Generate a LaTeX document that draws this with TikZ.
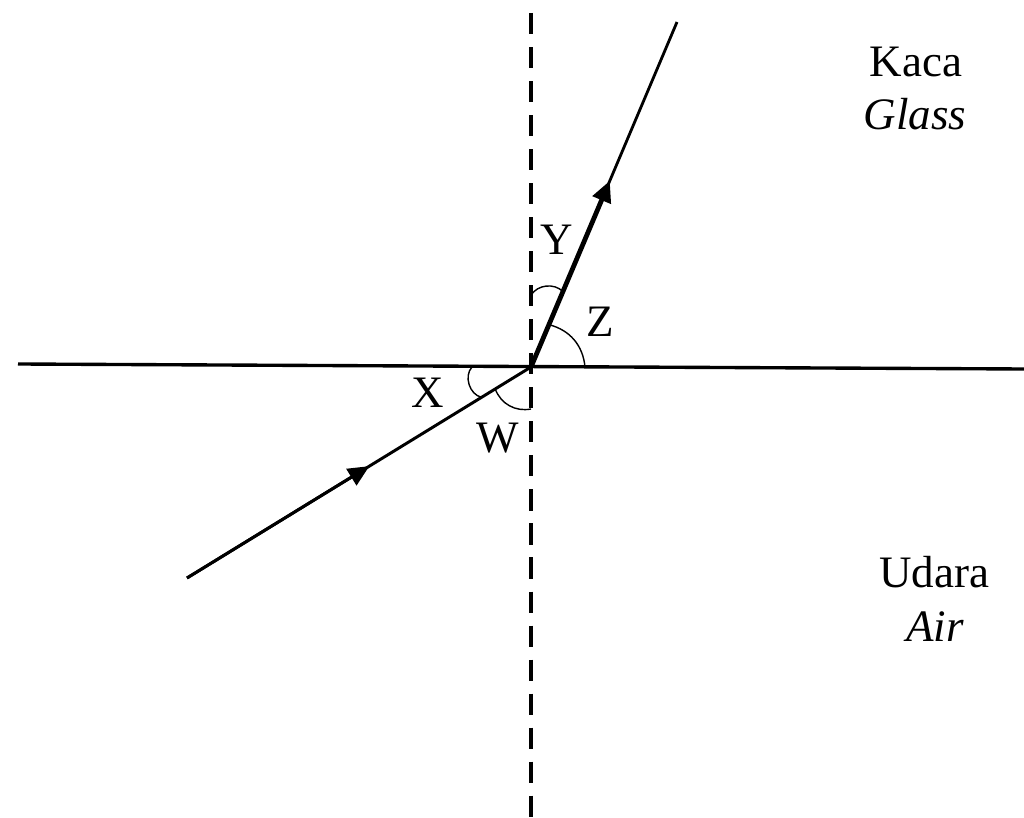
\documentclass[tikz,border=0pt]{standalone}
\usepackage{fontspec}
\setmainfont{Liberation Serif}
\usetikzlibrary{arrows.meta,calc}
\tikzset{
  ray/.style={line width=2.1pt},
  normalline/.style={line width=3.5pt, dash pattern=on 15pt off 9.2pt},
  angarc/.style={line width=1pt},
  lbl/.style={font=\fontsize{32}{38}\selectfont, inner sep=0pt},
  tip/.style={-{Triangle[length=15pt,width=13.5pt]}}
}
\begin{document}
\begin{tikzpicture}[x=0.025cm,y=0.025cm]
    \useasboundingbox (0,0) rectangle (1024,817);

    % Points
    \coordinate (O) at (531,450);
    \coordinate (N) at (531,804);
    \coordinate (S) at (531,0);
    \coordinate (L) at (18,453);
    \coordinate (R) at (1024,448);
    \coordinate (A) at (187,239);
    \coordinate (B) at (677,795);

    % Normal
    \draw[normalline] (N) -- (S);

    % Boundary
    \draw[line width=2.4pt] (L) -- (R);

    % Incident ray
    \draw[ray] (A) -- (O);
    \draw[ray,tip] (A) -- ($(A)!0.53!(O)$);

    % Refracted ray
    \draw[line width=2pt] (O) -- (B);
    \draw[line width=3.4pt,tip] (O) -- ($(O)!0.54!(B)$);

    % Angles
    \draw[angarc] ($(O)+(90:72)$) to[bend left=50] ($(O)+(67.1:82)$);
    \draw[angarc] ($(O)+(0:54)$) to[bend right=35] ($(O)+(67.1:46)$);
    \draw[angarc] ($(O)+(180:59)$) to[bend right=60] ($(O)+(211.5:58)$);
    \draw[angarc] ($(O)+(211.5:42)$) to[bend right=40] ($(O)+(270:42)$);

    % Angle labels
    \node[lbl] (y) at (556.5,577.5) {Y};
    \node[lbl] (z) at (600.5,495.5) {Z};
    \node[lbl] (x) at (428,424) {X};
    \node[lbl] (w) at (497.5,378.5) {W};

    % Media
    \node[lbl,anchor=base] (kaca) at (916,740) {Kaca};
    \node[lbl,anchor=base] (glass) at (915,687) {\itshape Glass};
    \node[lbl,anchor=base] (udara) at (934,230) {Udara};
    \node[lbl,anchor=base] (air) at (935,176) {\itshape Air};

\end{tikzpicture}
\end{document}
